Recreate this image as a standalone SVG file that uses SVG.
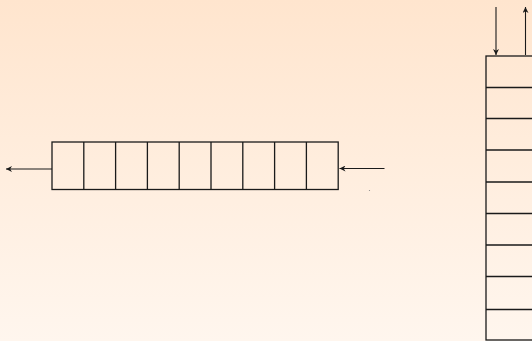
<svg xmlns="http://www.w3.org/2000/svg" width="532" height="341" viewBox="0 0 532 341">
<style>
.cell{fill:none;stroke:#1a1a1a;stroke-width:1.3}
.conn{fill:none;stroke:#1a1a1a;stroke-width:1.1}
</style>
<defs>
<linearGradient id="bg" x1="0" y1="0" x2="0" y2="1">
<stop offset="0" stop-color="#FFE5CE"/>
<stop offset="1" stop-color="#FFF6EE"/>
</linearGradient>
<marker id="ah" viewBox="0 0 10 10" refX="10" refY="5" markerWidth="7" markerHeight="6" markerUnits="userSpaceOnUse" orient="auto">
<path d="M0,0 L10,5 L0,10 L3,5 Z" fill="#1a1a1a"/>
</marker>
</defs>
<rect x="0" y="0" width="532" height="341" fill="url(#bg)"/>
<g id="queue">
<rect class="cell" x="52" y="142" width="286.2" height="47.5"/>
<path class="cell" d="M83.8,142V189.5M115.6,142V189.5M147.4,142V189.5M179.2,142V189.5M211,142V189.5M242.8,142V189.5M274.6,142V189.5M306.4,142V189.5"/>
</g>
<g id="stack">
<rect class="cell" x="486" y="56" width="80" height="284"/>
<path class="cell" d="M486,87.5H566M486,118.5H566M486,150H566M486,182H566M486,213.5H566M486,245H566M486,276.5H566M486,309.5H566"/>
</g>
<g id="connectors">
<line class="conn" x1="52" y1="169" x2="6" y2="169" marker-end="url(#ah)"/>
<line class="conn" x1="384.5" y1="168.5" x2="339.5" y2="168.5" marker-end="url(#ah)"/>
<line class="conn" x1="496" y1="7" x2="496" y2="55" marker-end="url(#ah)"/>
<line class="conn" x1="525.5" y1="55" x2="525.5" y2="7" marker-end="url(#ah)"/>
</g>
<circle cx="369.5" cy="190.5" r="0.6" fill="#888"/>
</svg>
